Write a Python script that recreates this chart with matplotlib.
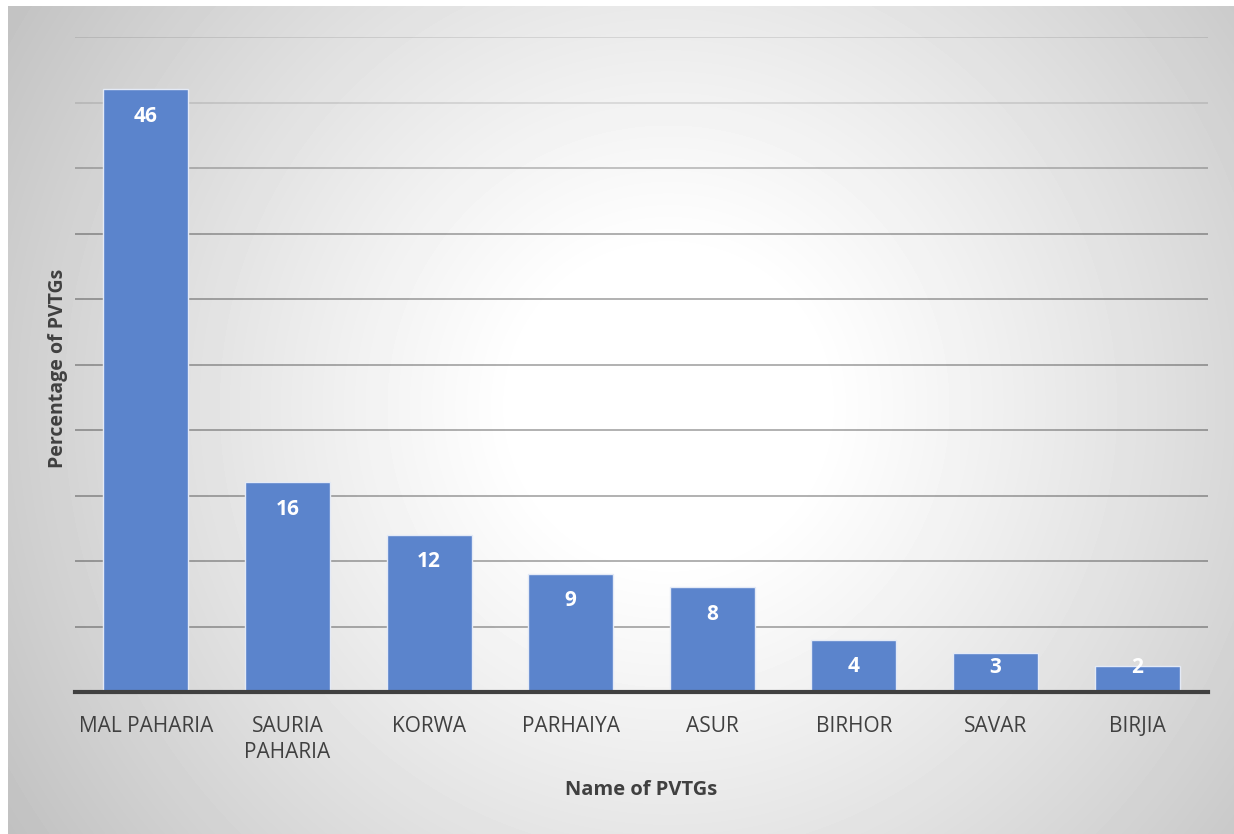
import numpy as np
import matplotlib.pyplot as plt

# data
tribes = ['MAL PAHARIA', 'SAURIA\nPAHARIA', 'KORWA', 'PARHAIYA', 'ASUR', 'BIRHOR', 'SAVAR', 'BIRJIA']
percent = [46, 16, 12, 9, 8, 4, 3, 2]

plt.rcParams['font.family'] = ['Open Sans', 'DejaVu Sans']

fig = plt.figure(figsize=(12.34, 8.34), dpi=100)

# radial gradient background (white centre, grey corners)
bg = fig.add_axes([8 / 1234, 0, 1 - 8 / 1234, 1 - 6 / 834])
h, w = 828, 1226
yy, xx = np.mgrid[0:h, 0:w]
cx, cy = 660, 400
r = np.sqrt((xx - cx) ** 2 + (yy - cy) ** 2) / 820.0
shade = np.clip(1.04 - 0.30 * r ** 1.2, 0.74, 1.0)
bg.imshow(shade, cmap='gray', vmin=0, vmax=1, aspect='auto', interpolation='bilinear')
bg.axis('off')

ax = fig.add_axes([75 / 1234, 142 / 834, 1133 / 1234, 655 / 834])
ax.patch.set_alpha(0)

x = np.arange(len(tribes))
bars = ax.bar(x, percent, width=0.6, color='#5B84CC', edgecolor='#E4EAF6', linewidth=1.0, zorder=3)
for b, v in zip(bars, percent):
    ax.text(b.get_x() + b.get_width() / 2, max(v - 2.05, 1.85), str(v), ha='center', va='center',
            color='white', fontsize=15, fontweight='bold', zorder=4)

ax.set_xlim(-0.5, len(tribes) - 0.5)
ax.set_ylim(0, 50)
ax.set_yticks([])

# gridlines, fainter towards the top like the original
for g in range(5, 51, 5):
    a = 0.55 if g <= 35 else (0.4 if g == 40 else 0.18)
    ax.axhline(g, color='black', alpha=a * 0.6, linewidth=1.3, zorder=1)

ax.set_xticks(x)
ax.set_xticklabels(tribes, fontsize=15, color='#404040', va='top', linespacing=1.35)
ax.tick_params(axis='x', length=0, pad=17)

for s in ['top', 'right', 'left']:
    ax.spines[s].set_visible(False)
ax.spines['bottom'].set_color('#404040')
ax.spines['bottom'].set_linewidth(3)
ax.spines['bottom'].set_zorder(5)

fig.text(641 / 1234, 1 - 790 / 834, 'Name of PVTGs', ha='center', va='center',
         fontsize=14.5, fontweight='bold', color='#404040')
fig.text(58 / 1234, 1 - 368 / 834, 'Percentage of PVTGs', ha='center', va='center',
         rotation=90, fontsize=14, fontweight='bold', color='#404040')

fig.savefig('out.png', dpi=100)
